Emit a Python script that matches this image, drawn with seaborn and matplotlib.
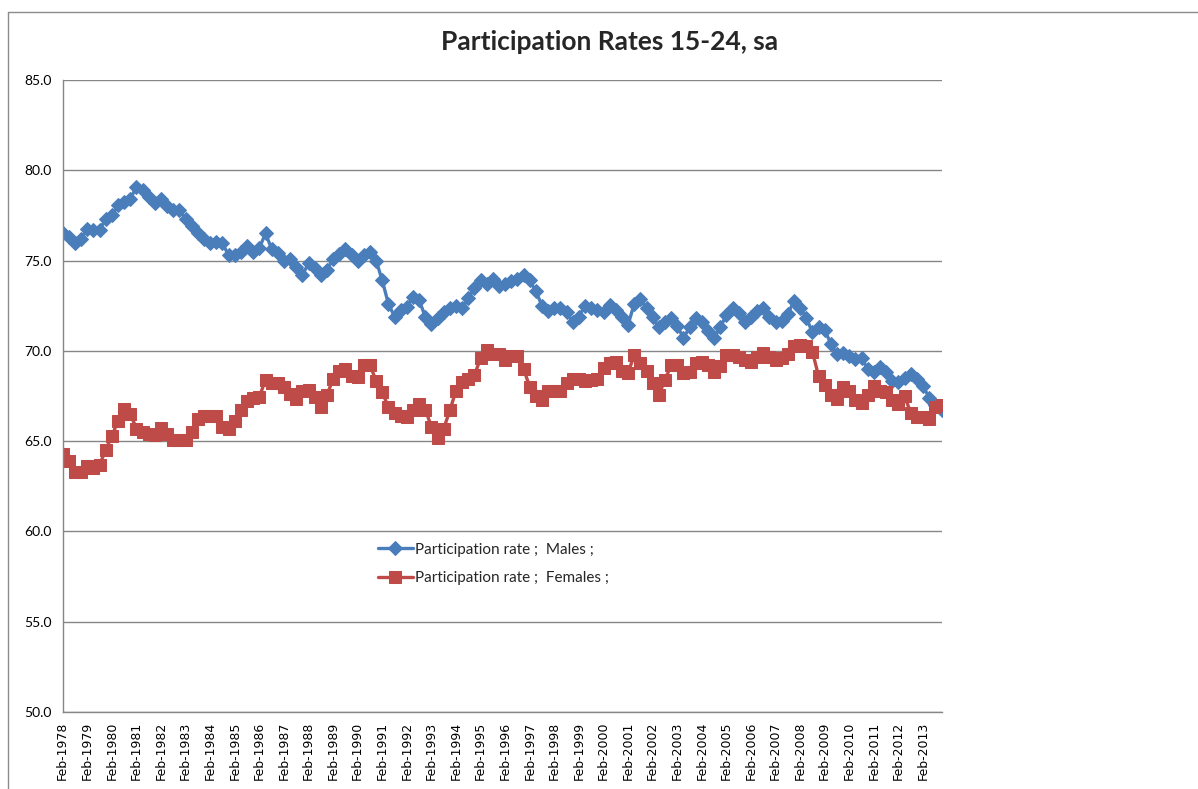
import numpy as np
import pandas as pd
import matplotlib
matplotlib.use('Agg')
import matplotlib.pyplot as plt
from matplotlib.lines import Line2D
import seaborn as sns

# quarterly series Feb-1978 .. Nov-2013, one row per year (Feb, May, Aug, Nov)
MALES = [
    76.5, 76.3, 76.0, 76.2,
    76.75, 76.7, 76.7, 77.3,
    77.5, 78.05, 78.25, 78.4,
    79.1, 78.9, 78.5, 78.2,
    78.4, 78.0, 77.8, 77.8,
    77.3, 76.9, 76.5, 76.2,
    76.0, 76.05, 75.95, 75.3,
    75.3, 75.5, 75.8, 75.5,
    75.7, 76.5, 75.65, 75.4,
    74.95, 75.1, 74.65, 74.2,
    74.85, 74.6, 74.2, 74.5,
    75.1, 75.35, 75.65, 75.3,
    75.0, 75.3, 75.5, 75.0,
    73.9, 72.6, 71.9, 72.25,
    72.45, 73.0, 72.8, 71.9,
    71.5, 71.8, 72.15, 72.4,
    72.5, 72.35, 72.9, 73.5,
    73.9, 73.7, 74.0, 73.6,
    73.7, 73.85, 74.0, 74.2,
    73.9, 73.3, 72.5, 72.2,
    72.35, 72.4, 72.15, 71.6,
    71.9, 72.5, 72.35, 72.25,
    72.15, 72.55, 72.25, 71.9,
    71.45, 72.6, 72.85, 72.35,
    71.9, 71.3, 71.6, 71.8,
    71.4, 70.7, 71.3, 71.8,
    71.6, 71.1, 70.7, 71.3,
    72.0, 72.4, 72.1, 71.6,
    71.9, 72.2, 72.35, 71.9,
    71.6, 71.65, 72.05, 72.75,
    72.4, 71.8, 71.05, 71.3,
    71.15, 70.4, 69.8, 69.9,
    69.7, 69.55, 69.6, 69.0,
    68.85, 69.1, 68.85, 68.35,
    68.25, 68.5, 68.7, 68.45,
    68.05, 67.4, 67.0, 66.7,
]

FEMALES = [
    64.3, 63.9, 63.3, 63.3,
    63.6, 63.5, 63.7, 64.5,
    65.3, 66.1, 66.8, 66.5,
    65.7, 65.5, 65.4, 65.35,
    65.75, 65.4, 65.05, 65.05,
    65.05, 65.5, 66.25, 66.4,
    66.4, 66.4, 65.8, 65.65,
    66.1, 66.7, 67.2, 67.4,
    67.45, 68.4, 68.2, 68.2,
    68.0, 67.6, 67.35, 67.8,
    67.85, 67.45, 66.9, 67.55,
    68.45, 68.9, 69.0, 68.6,
    68.55, 69.2, 69.2, 68.35,
    67.7, 66.9, 66.55, 66.4,
    66.35, 66.7, 67.05, 66.75,
    65.8, 65.2, 65.7, 66.7,
    67.8, 68.3, 68.45, 68.65,
    69.6, 70.05, 69.85, 69.8,
    69.5, 69.7, 69.7, 69.0,
    68.0, 67.5, 67.3, 67.8,
    67.8, 67.8, 68.2, 68.45,
    68.45, 68.35, 68.4, 68.45,
    69.05, 69.3, 69.4, 68.9,
    68.8, 69.75, 69.3, 68.9,
    68.2, 67.55, 68.4, 69.2,
    69.2, 68.75, 68.85, 69.3,
    69.4, 69.2, 68.85, 69.15,
    69.75, 69.75, 69.65, 69.5,
    69.4, 69.65, 69.9, 69.65,
    69.5, 69.6, 69.85, 70.25,
    70.3, 70.25, 69.95, 68.6,
    68.1, 67.55, 67.35, 68.0,
    67.8, 67.3, 67.1, 67.55,
    68.05, 67.8, 67.7, 67.3,
    67.05, 67.5, 66.55, 66.35,
    66.35, 66.25, 66.9, 67.0,
]

YEARS = list(range(1978, 2014))
TICK_LABELS = [f'Feb-{y}' for y in YEARS]
Y_TICKS = [50, 55, 60, 65, 70, 75, 80, 85]

TITLE = 'Participation Rates 15-24, sa'
LABEL_M = 'Participation rate ;  Males ;'
LABEL_F = 'Participation rate ;  Females ;'

BLUE = '#4A7EBB'
RED = '#BE4B48'
GREY = '#868686'

sns.set_style('white')
plt.rcParams['font.family'] = ['Lato', 'DejaVu Sans']

W, H = 1198, 789
fig = plt.figure(figsize=(W / 100, H / 100), dpi=100)
ax = fig.add_axes([62.7 / W, 1 - 712 / H, (941.5 - 62.7) / W, (712 - 80) / H])

df = pd.DataFrame({'q': np.arange(len(MALES)), 'males': MALES, 'females': FEMALES})

sns.lineplot(data=df, x='q', y='males', ax=ax, color=BLUE, linewidth=2.4,
             marker='D', markersize=7, markeredgecolor=BLUE, markerfacecolor=BLUE,
             label=LABEL_M)
sns.lineplot(data=df, x='q', y='females', ax=ax, color=RED, linewidth=2.4,
             marker='s', markersize=8.5, markeredgecolor=RED, markerfacecolor=RED,
             label=LABEL_F)

ax.set_xlim(0, len(MALES) - 1)
ax.set_ylim(50, 85)
ax.set_yticks(Y_TICKS)
ax.set_yticklabels([f'{v:.1f}' for v in Y_TICKS], fontsize=10)
ax.set_xticks(np.arange(0, len(MALES), 4))
ax.set_xticklabels(TICK_LABELS, rotation=90, fontsize=9, family='DejaVu Sans',
                   va='top', ha='center')
ax.set_xlabel('')
ax.set_ylabel('')

ax.yaxis.grid(True, color=GREY, linewidth=1)
ax.xaxis.grid(False)
ax.set_axisbelow(True)
for side in ['top', 'right']:
    ax.spines[side].set_visible(False)
for side in ['left', 'bottom']:
    ax.spines[side].set_color(GREY)
    ax.spines[side].set_linewidth(1)
ax.tick_params(axis='both', direction='out', length=5, width=1, color=GREY,
               labelcolor='black', pad=3)
ax.tick_params(axis='x', pad=2)

leg = ax.legend(loc='upper left', bbox_to_anchor=(0.35, 0.28), frameon=False,
                fontsize=11, handlelength=2.3, handletextpad=0.1, labelspacing=0.95,
                borderpad=0)

fig.text(610 / W, 1 - 42 / H, TITLE, ha='center', va='center', fontsize=19,
         fontweight='bold')

# chart frame (left and top edges are visible in the reference)
fig.add_artist(Line2D([8 / W, 8 / W], [0, 1 - 12 / H], transform=fig.transFigure,
                      color='#8C8C8C', linewidth=1))
fig.add_artist(Line2D([8 / W, 1], [1 - 12 / H, 1 - 12 / H], transform=fig.transFigure,
                      color='#8C8C8C', linewidth=1))

fig.savefig('out.png', dpi=100)
